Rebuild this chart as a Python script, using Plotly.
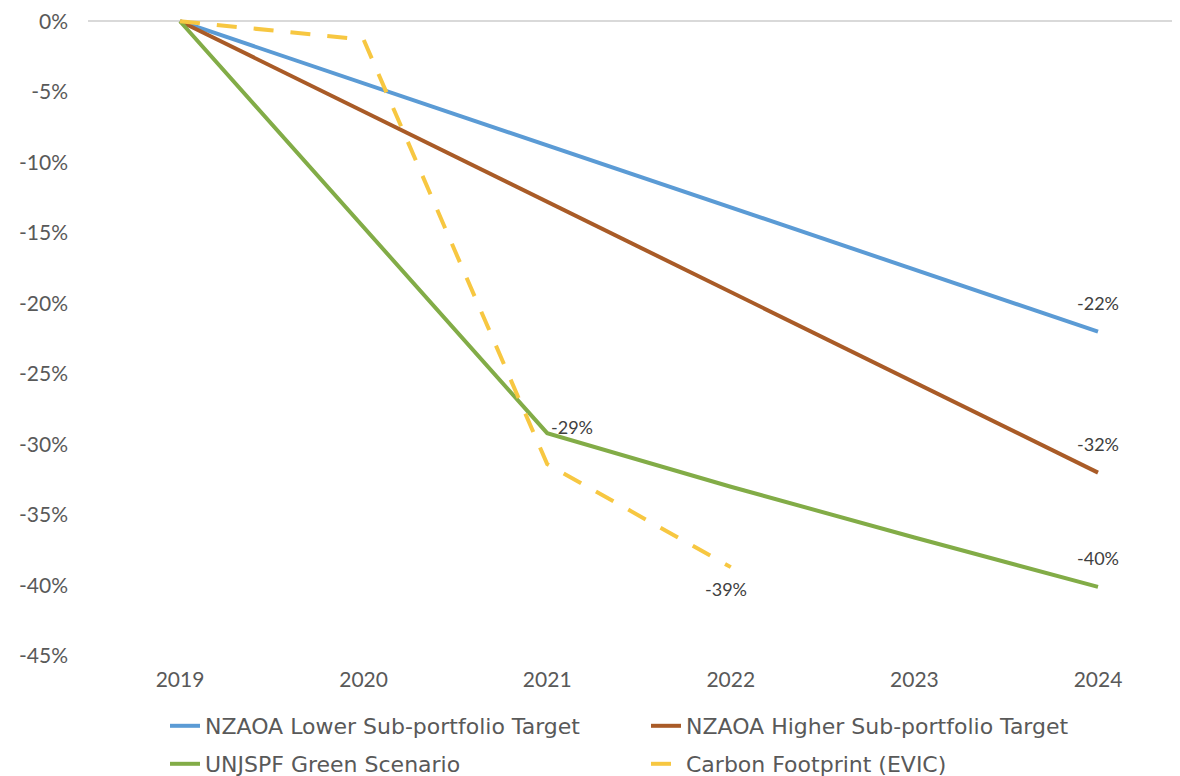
import plotly.graph_objects as go

years = [2019, 2020, 2021, 2022, 2023, 2024]
lower_target = [0, -4.4, -8.8, -13.2, -17.6, -22]
higher_target = [0, -6.4, -12.8, -19.2, -25.6, -32]
green_scenario = [0, -14.6, -29.2, -33.0, -36.6, -40.1]
carbon_years = [2019, 2020, 2021, 2022]
carbon_footprint = [0, -1.3, -31.4, -38.7]

ytick_vals = [0, -5, -10, -15, -20, -25, -30, -35, -40, -45]
ytick_text = ["0%", "-5%", "-10%", "-15%", "-20%", "-25%", "-30%", "-35%", "-40%", "-45%"]
xtick_text = ["2019", "2020", "2021", "2022", "2023", "2024"]

BLUE = "#5B9BD5"
BROWN = "#A95B27"
GREEN = "#82AC47"
YELLOW = "#F7C741"
TICKC = "#595959"

W, H = 1172, 768          # page has an 8px body margin
L, R, T, B = 80, 0, 9, 120
PW, PH = W - L - R, H - T - B

fig = go.Figure()
fig.add_trace(go.Scatter(x=years, y=lower_target, mode="lines", name="NZAOA Lower Sub-portfolio Target",
                         line=dict(color=BLUE, width=4), legend="legend"))
fig.add_trace(go.Scatter(x=years, y=higher_target, mode="lines", name="NZAOA Higher Sub-portfolio Target",
                         line=dict(color=BROWN, width=4), legend="legend"))
fig.add_trace(go.Scatter(x=years, y=green_scenario, mode="lines", name="UNJSPF Green Scenario",
                         line=dict(color=GREEN, width=4), legend="legend2"))
fig.add_trace(go.Scatter(x=carbon_years, y=carbon_footprint, mode="lines", name="Carbon Footprint (EVIC)",
                         line=dict(color=YELLOW, width=4, dash="20px,17px"), legend="legend2"))

lab_font = dict(family="Lato", size=18, color="#404040")
def lab(x, y, txt, **kw):
    fig.add_annotation(x=x, y=y, text=txt, showarrow=False, font=lab_font, **kw)

lab(years[-1], lower_target[-1], "%d%%" % round(lower_target[-1]), yshift=29)
lab(years[-1], higher_target[-1], "%d%%" % round(higher_target[-1]), yshift=29)
lab(years[-1], green_scenario[-1], "%d%%" % round(green_scenario[-1]), yshift=29)
lab(years[2], green_scenario[2], "%d%%" % round(green_scenario[2]), xanchor="left", xshift=2, yshift=6)
lab(carbon_years[-1], carbon_footprint[-1], "%d%%" % round(carbon_footprint[-1]), xshift=-5, yshift=-22)

legend_common = dict(orientation="h", xanchor="left", yanchor="middle", entrywidth=436,
                     font=dict(family="DejaVu Sans", size=22, color=TICKC), bgcolor="rgba(0,0,0,0)",
                     itemwidth=30, tracegroupgap=0)

tick_font = dict(family="Lato", size=21, color=TICKC)

fig.update_layout(
    width=W, height=H,
    margin=dict(l=L, r=R, t=T, b=B, autoexpand=False),
    paper_bgcolor="white", plot_bgcolor="white",
    showlegend=True,
    legend=dict(x=(157 - L) / PW, y=-(718 - (H - B)) / PH, **legend_common),
    legend2=dict(x=(157 - L) / PW, y=-(756 - (H - B)) / PH, **legend_common),
    xaxis=dict(range=[2018.4989, 2024.4466], tickvals=years, ticktext=xtick_text,
               showgrid=False, zeroline=False, showline=False, ticks="",
               tickfont=tick_font, ticklabelstandoff=9),
    yaxis=dict(range=[-45, 0.3], tickvals=ytick_vals, ticktext=ytick_text,
               showgrid=False, zeroline=True, zerolinecolor="#D9D9D9", zerolinewidth=1.5,
               showline=False, ticks="", ticklabeloverflow="allow",
               tickfont=tick_font, ticklabelstandoff=19),
)

fig.write_html("out.html")
